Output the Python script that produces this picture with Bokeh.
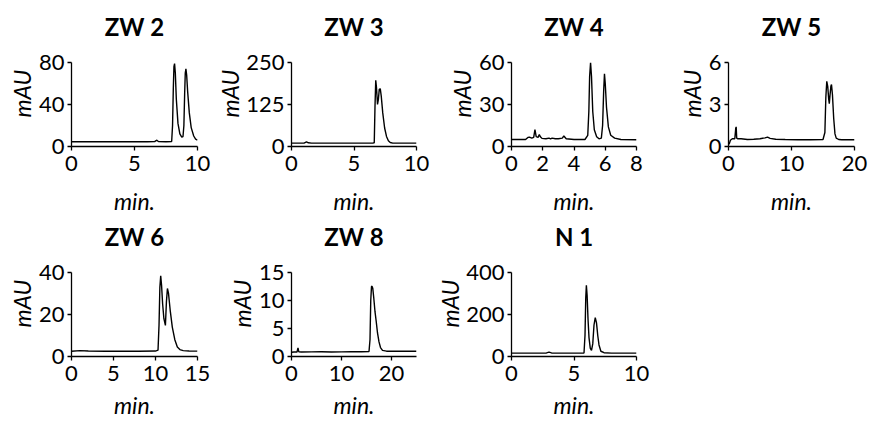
from bokeh.plotting import figure
from bokeh.layouts import gridplot
from bokeh.models import FixedTicker, Range1d, LinearAxis, Title
from bokeh.embed import file_html
from bokeh.resources import INLINE

FONT = "Lato"

titles = ["ZW 2", "ZW 3", "ZW 4", "ZW 5", "ZW 6", "ZW 8", "N 1"]
x_label = "min."
y_label = "mAU"

zw2_t = [0, 1, 2, 3, 4, 5, 6, 6.6, 6.75, 6.9, 7.5, 7.95, 8.02, 8.08, 8.13, 8.18, 8.24, 8.32,
         8.45, 8.6, 8.75, 8.85, 8.92, 8.98, 9.03, 9.08, 9.14, 9.22, 9.35, 9.5, 9.7, 9.85, 10]
zw2_v = [4.5, 4.6, 4.5, 4.6, 4.5, 4.5, 4.5, 4.6, 6, 4.8, 4.5, 4.8, 20, 55, 76, 79, 70, 45,
         22, 12, 9, 9.5, 20, 50, 70, 74, 68, 52, 32, 18, 10, 7, 6]

zw3_t = [0, 1.0, 1.2, 1.35, 1.6, 3, 5, 6.5, 6.62, 6.68, 6.74, 6.8, 6.88, 6.95, 7.02, 7.1,
         7.18, 7.3, 7.45, 7.6, 7.75, 7.9, 8.1, 8.5, 10]
zw3_v = [10, 10, 14, 11, 10, 10, 10, 10, 11, 120, 197, 175, 125, 140, 170, 172,
         150, 100, 55, 30, 17, 12, 10, 10, 10]

zw4_t = [0, 0.9, 1.05, 1.15, 1.3, 1.42, 1.5, 1.58, 1.7, 1.78, 1.85, 1.95, 2.2, 2.4, 2.5,
         2.6, 2.8, 3.0, 3.25, 3.35, 3.5, 4.0, 4.7, 4.88, 4.95, 5.0, 5.06, 5.12, 5.2, 5.3,
         5.45, 5.6, 5.75, 5.83, 5.9, 5.95, 6.0, 6.08, 6.2, 6.35, 6.6, 7.0, 8.0]
zw4_v = [5, 5, 6.5, 6.7, 6, 6.5, 12, 7, 6.5, 8.5, 7, 5.8, 5.5, 6, 5.5,
         6, 5.5, 5.5, 6, 7.5, 5.5, 5, 5, 8, 25, 50, 60, 50, 25, 12,
         7, 5.5, 6, 15, 40, 52, 45, 28, 14, 8, 6, 5, 4.8]

zw5_t = [0.1, 0.3, 0.6, 1.0, 1.15, 1.22, 1.3, 1.5, 2, 3, 4, 5, 5.8, 6.2, 6.6, 7.5, 9, 11,
         13, 15, 15.3, 15.45, 15.6, 15.75, 15.9, 16.0, 16.1, 16.25, 16.35, 16.5, 16.7,
         16.9, 17.1, 17.5, 18, 19, 20]
zw5_v = [0.15, 0.45, 0.55, 0.55, 1.3, 1.4, 0.6, 0.55, 0.55, 0.5, 0.52, 0.55, 0.62, 0.67,
         0.58, 0.52, 0.5, 0.48, 0.48, 0.5, 1.0, 3.5, 4.66, 4.3, 3.4, 3.06, 3.6, 4.3, 4.43,
         3.7, 2.0, 0.9, 0.6, 0.5, 0.48, 0.48, 0.48]

zw6_t = [0, 1, 2, 4, 6, 8, 10, 10.3, 10.42, 10.52, 10.62, 10.72, 10.85, 11.0, 11.18, 11.3,
         11.42, 11.55, 11.75, 12.0, 12.3, 12.6, 12.9, 13.3, 14, 15]
zw6_v = [2.5, 2.8, 2.6, 2.5, 2.5, 2.5, 2.6, 3.0, 15, 33, 38.4, 34, 25, 18, 14.8, 26,
         32.4, 30, 22, 14, 8, 4.5, 3.3, 2.8, 2.6, 2.55]

zw8_t = [0, 0.5, 1.1, 1.3, 1.45, 2, 4, 6, 8, 10, 12, 14, 15.5, 15.7, 15.85, 16.0, 16.1,
         16.25, 16.45, 16.7, 16.95, 17.2, 17.5, 17.8, 18.2, 19, 21, 25]
zw8_v = [0.75, 0.8, 0.8, 1.55, 0.85, 0.8, 0.82, 0.85, 0.8, 0.82, 0.85, 0.85, 0.9, 3, 10,
         12.5, 12.55, 12.2, 10.5, 8, 6.2, 4.2, 2.6, 1.6, 1.1, 0.95, 0.95, 0.95]

n1_t = [0, 1, 2, 2.8, 3.0, 3.2, 4, 5, 5.8, 5.88, 5.94, 5.99, 6.05, 6.12, 6.2, 6.3, 6.4,
        6.5, 6.6, 6.7, 6.8, 6.9, 7.0, 7.15, 7.4, 8, 10]
n1_v = [16, 16, 16, 17, 21, 17, 16, 16, 17, 100, 280, 339, 290, 180, 90, 40, 29,
        60, 150, 185, 160, 100, 55, 25, 18, 16, 16]

x_max = [10, 10, 8, 20, 15, 25, 10]
y_max = [80, 250, 60, 6, 40, 15, 400]
x_ticks = [[0, 5, 10], [0, 5, 10], [0, 2, 4, 6, 8], [0, 10, 20], [0, 5, 10, 15], [0, 10, 20], [0, 5, 10]]
y_ticks = [[0, 40, 80], [0, 125, 250], [0, 30, 60], [0, 3, 6], [0, 20, 40], [0, 5, 10, 15], [0, 200, 400]]

series_t = [zw2_t, zw3_t, zw4_t, zw5_t, zw6_t, zw8_t, n1_t]
series_v = [zw2_v, zw3_v, zw4_v, zw5_v, zw6_v, zw8_v, n1_v]

# layout (pixels)
col_w = [213, 220, 224, 214]
col_left = [71, 76, 76, 71]
frame_w = [126, 127, 127, 126]
row_h = [218, 203]
row_top = [62, 54]
FRAME_H = 84
xlabel_standoff = [13, 7]

TICK_FS = "22px"
LABEL_FS = "23px"
TITLE_FS = "24px"


def make(i):
    r, c = divmod(i, 4)
    w, h = col_w[c], row_h[r]
    p = figure(width=w, height=h, output_backend="svg", toolbar_location=None,
               x_range=Range1d(0, x_max[i]), y_range=Range1d(0, y_max[i]),
               min_border_left=col_left[c], min_border_right=w - col_left[c] - frame_w[c],
               min_border_top=row_top[r], min_border_bottom=h - row_top[r] - FRAME_H,
               background_fill_color="white", border_fill_color="white")
    p.line(series_t[i], series_v[i], line_color="black", line_width=1.4)
    p.xgrid.grid_line_color = None
    p.ygrid.grid_line_color = None
    p.outline_line_color = None
    p.xaxis.ticker = FixedTicker(ticks=x_ticks[i])
    p.yaxis.ticker = FixedTicker(ticks=y_ticks[i])
    for ax in (p.xaxis[0], p.yaxis[0]):
        ax.axis_line_color = "black"
        ax.axis_line_width = 1.3
        ax.major_tick_line_color = "black"
        ax.major_tick_line_width = 1.3
        ax.major_tick_out = 4
        ax.major_tick_in = 0
        ax.minor_tick_line_color = None
        ax.major_label_text_font = FONT
        ax.major_label_text_font_size = TICK_FS
        ax.major_label_text_color = "black"
    p.xaxis.major_label_standoff = 5
    p.yaxis.major_label_standoff = 3

    # x axis label
    p.xaxis.axis_label = x_label
    p.xaxis.axis_label_standoff = xlabel_standoff[r]
    p.xaxis.axis_label_text_font = FONT
    p.xaxis.axis_label_text_font_size = LABEL_FS
    p.xaxis.axis_label_text_font_style = "italic"
    p.xaxis.axis_label_text_color = "black"

    # panel title: label of a bare axis above the frame
    top = LinearAxis(axis_label=titles[i], ticker=FixedTicker(ticks=[]),
                     axis_line_color=None, major_tick_line_color=None,
                     minor_tick_line_color=None, major_tick_out=0, major_tick_in=0,
                     minor_tick_out=0, minor_tick_in=0,
                     axis_label_standoff=22, axis_label_text_font=FONT,
                     axis_label_text_font_size=TITLE_FS,
                     axis_label_text_font_style="bold",
                     axis_label_text_color="black")
    p.add_layout(top, "above")

    # y axis label, starting a little above the frame bottom
    yt = Title(text=y_label, align="left", offset=29, standoff=0,
               vertical_align="bottom", text_font=FONT, text_font_size=LABEL_FS,
               text_font_style="italic", text_color="black")
    p.add_layout(yt, "left")
    return p


figs = [make(i) for i in range(7)]
grid = gridplot([figs[:4], figs[4:] + [None]], toolbar_location=None)

open("out.html", "w").write(file_html(grid, INLINE))
